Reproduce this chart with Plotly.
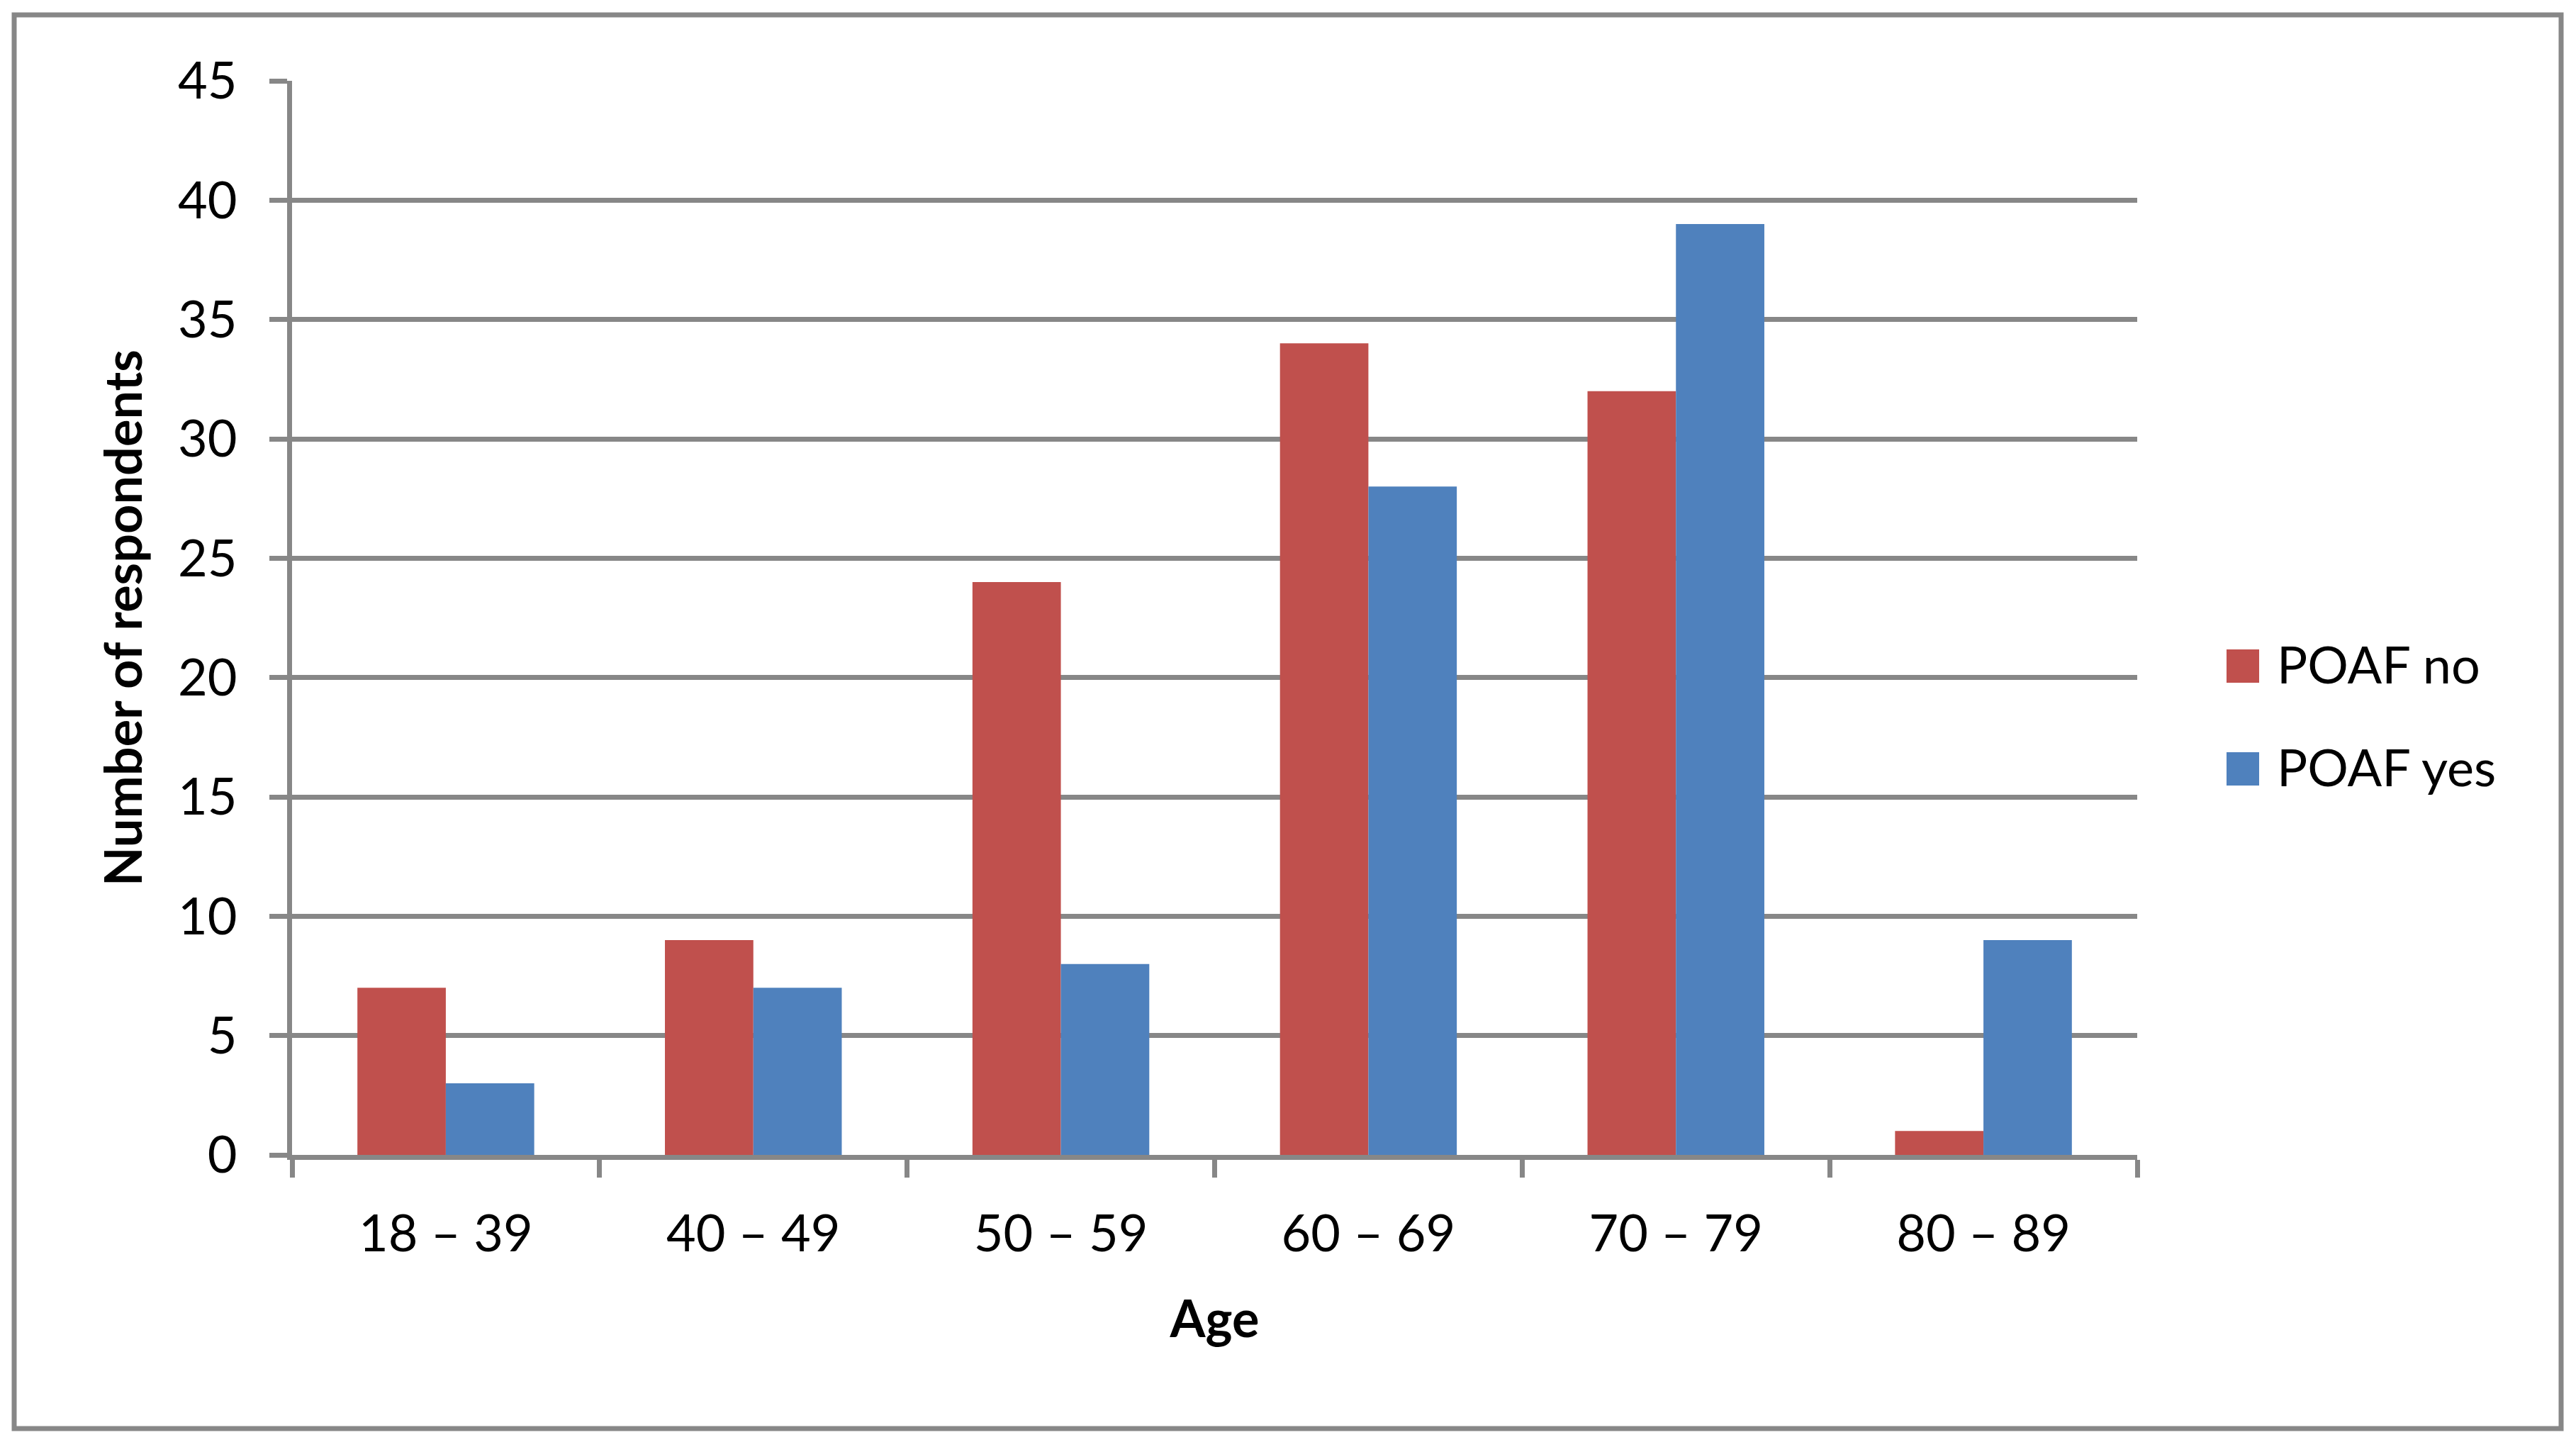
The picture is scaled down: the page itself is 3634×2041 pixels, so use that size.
import plotly.graph_objects as go

# ---- data ----
age_groups = ["18 – 39", "40 – 49", "50 – 59", "60 – 69", "70 – 79", "80 – 89"]
poaf_no = [7, 9, 24, 34, 32, 1]
poaf_yes = [3, 7, 8, 28, 39, 9]
series_names = ["POAF no", "POAF yes"]
y_ticks = [0, 5, 10, 15, 20, 25, 30, 35, 40, 45]

RED = "#C0504D"
BLUE = "#4F81BD"
GRAY = "#878787"
FONT = "Lato"

OFF = 8  # default page body margin
W, H = 3634 - 2 * OFF, 2041 - 2 * OFF
PL, PR, PT, PB = 412 - OFF, 3015 - OFF, 114 - OFF, 1629 - OFF  # plot area pixel bounds


def px_x(p):
    return (p - OFF - PL) / (PR - PL)


def px_y(p):
    return (PB - (p - OFF)) / (PB - PT)


fig = go.Figure()
fig.add_trace(go.Bar(x=age_groups, y=poaf_no, name=series_names[0],
                     marker=dict(color=RED, line=dict(width=0)), showlegend=False))
fig.add_trace(go.Bar(x=age_groups, y=poaf_yes, name=series_names[1],
                     marker=dict(color=BLUE, line=dict(width=0)), showlegend=False))

fig.update_layout(
    width=W, height=H, autosize=False,
    margin=dict(l=PL, r=W - PR, t=PT, b=H - PB, pad=0),
    paper_bgcolor="white", plot_bgcolor="white",
    barmode="group", bargap=0.425, bargroupgap=0,
    font=dict(family=FONT, size=72, color="black"),
)

fig.update_xaxes(
    type="category", automargin=False,
    showgrid=False, zeroline=False,
    showline=True, linecolor=GRAY, linewidth=7,
    ticks="outside", ticklen=25, tickwidth=7, tickcolor=GRAY,
    tickson="boundaries",
    tickfont=dict(family=FONT, size=72, color="black"),
    ticklabelstandoff=43,
    title=dict(text="<b>Age</b>", font=dict(family=FONT, size=72, color="black"), standoff=59),
)

fig.update_yaxes(
    range=[0, 45], tickvals=y_ticks, ticktext=[str(v) for v in y_ticks],
    automargin=False,
    showgrid=True, gridcolor=GRAY, gridwidth=7,
    zeroline=False,
    showline=True, linecolor=GRAY, linewidth=7,
    ticks="outside", ticklen=25, tickwidth=7, tickcolor=GRAY,
    tickfont=dict(family=FONT, size=72, color="black"),
    ticklabelstandoff=31,
    title=dict(text="<b>Number of respondents</b>", font=dict(family=FONT, size=72, color="black"), standoff=29),
)

# outer chart border
fig.add_shape(type="rect", xref="paper", yref="paper",
              x0=px_x(20), x1=px_x(3613), y0=px_y(2015), y1=px_y(21),
              line=dict(color=GRAY, width=7), fillcolor="rgba(0,0,0,0)", layer="below")

# legend (drawn manually so the swatches match the original size)
legend_rows = [(series_names[0], RED, 916, 963), (series_names[1], BLUE, 1061, 1108)]
for name, col, top, bot in legend_rows:
    fig.add_shape(type="rect", xref="paper", yref="paper",
                  x0=px_x(3141), x1=px_x(3187), y0=px_y(bot), y1=px_y(top),
                  line=dict(width=0), fillcolor=col)
    fig.add_annotation(xref="paper", yref="paper", x=px_x(3210), y=px_y((top + bot) / 2 - 4),
                       text=name, showarrow=False, xanchor="left", yanchor="middle",
                       font=dict(family=FONT, size=72, color="black"))

fig.write_html("out.html")
